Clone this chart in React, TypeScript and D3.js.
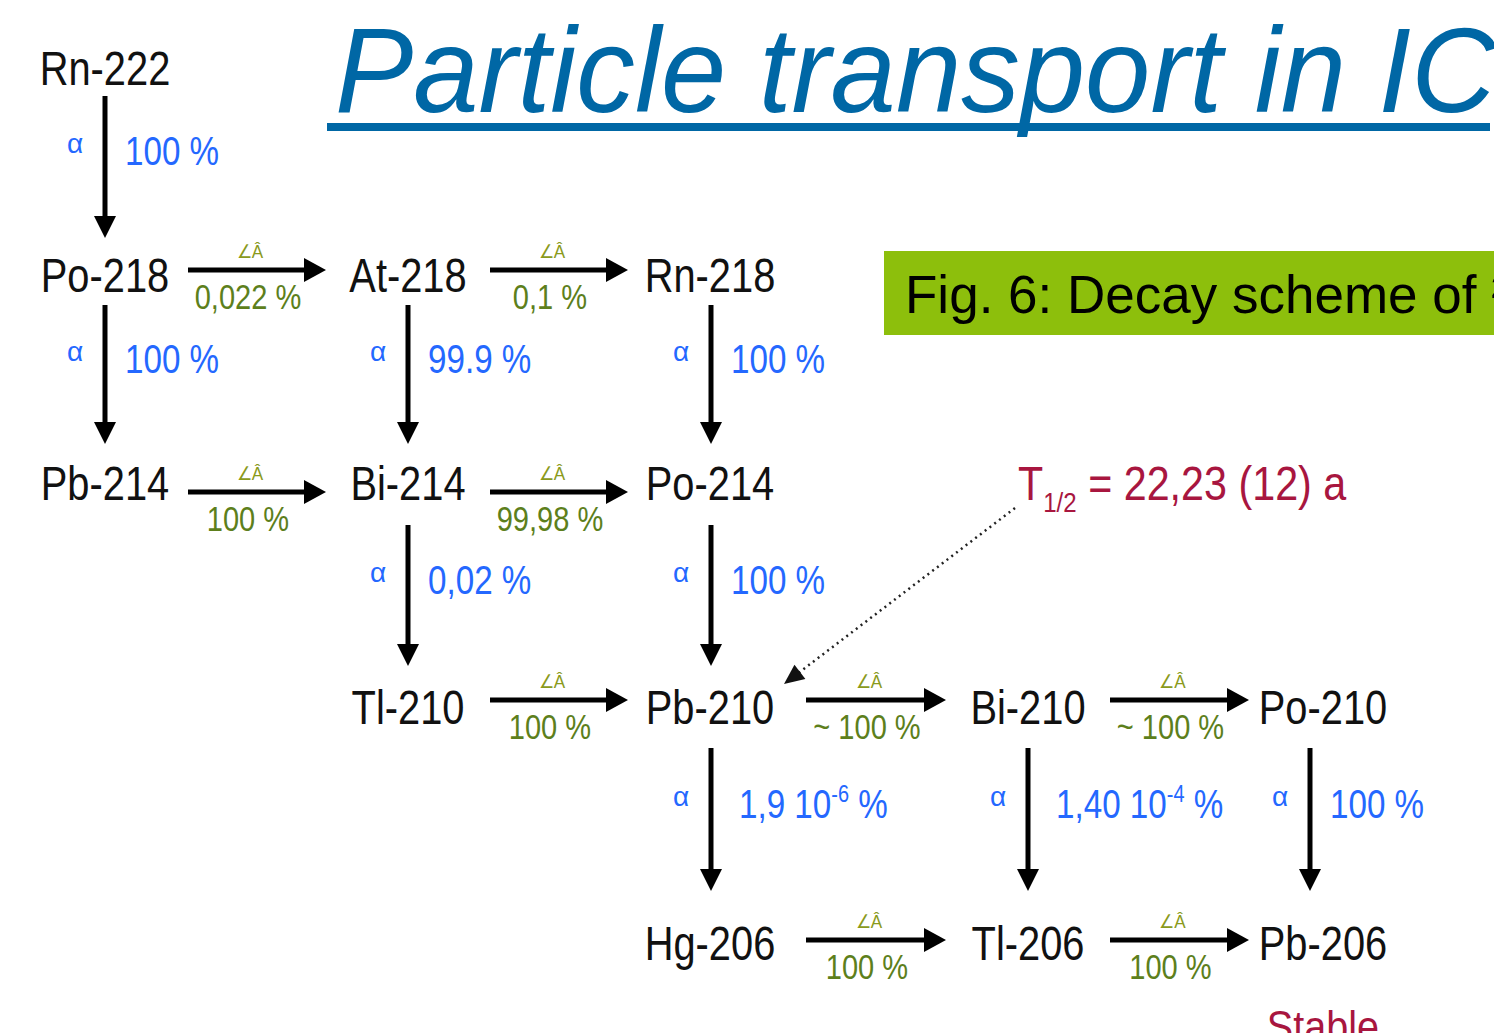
import React from 'react';
import * as d3 from 'd3';

// nuclides laid out on a grid of columns / rows
const nuclides = [
  { name: 'Rn-222', col: 0, row: 0 },
  { name: 'Po-218', col: 0, row: 1 },
  { name: 'At-218', col: 1, row: 1 },
  { name: 'Rn-218', col: 2, row: 1 },
  { name: 'Pb-214', col: 0, row: 2 },
  { name: 'Bi-214', col: 1, row: 2 },
  { name: 'Po-214', col: 2, row: 2 },
  { name: 'Tl-210', col: 1, row: 3 },
  { name: 'Pb-210', col: 2, row: 3 },
  { name: 'Bi-210', col: 3, row: 3 },
  { name: 'Po-210', col: 4, row: 3 },
  { name: 'Hg-206', col: 2, row: 4 },
  { name: 'Tl-206', col: 3, row: 4 },
  { name: 'Pb-206', col: 4, row: 4 },
];

// alpha decays go down one row, beta decays go right one column
const alphaDecays = [
  { from: 'Rn-222', value: '100 %', exp: '' },
  { from: 'Po-218', value: '100 %', exp: '' },
  { from: 'At-218', value: '99.9 %', exp: '' },
  { from: 'Rn-218', value: '100 %', exp: '' },
  { from: 'Bi-214', value: '0,02 %', exp: '' },
  { from: 'Po-214', value: '100 %', exp: '' },
  { from: 'Pb-210', value: '1,9 10', exp: '-6' },
  { from: 'Bi-210', value: '1,40 10', exp: '-4' },
  { from: 'Po-210', value: '100 %', exp: '' },
];

const betaDecays = [
  { from: 'Po-218', value: '0,022 %' },
  { from: 'At-218', value: '0,1 %' },
  { from: 'Pb-214', value: '100 %' },
  { from: 'Bi-214', value: '99,98 %' },
  { from: 'Tl-210', value: '100 %' },
  { from: 'Pb-210', value: '~ 100 %' },
  { from: 'Bi-210', value: '~ 100 %' },
  { from: 'Hg-206', value: '100 %' },
  { from: 'Tl-206', value: '100 %' },
];

const titleText = 'Particle transport in IC';
const figText = 'Fig. 6: Decay scheme of \u00B2\u00B2\u00B2Rn';
const halfLife = { label: '1/2', value: ' = 22,23 (12) a', target: 'Pb-210' };
const stableText = 'Stable';
const alphaGlyph = '\u03B1';
const betaGlyph = '\u2220\u00C2';

const W = 1494;
const H = 1033;

const BLUE = '#2468ff';
const GREEN = '#5d7f1c';
const RED = '#a8163f';
const FONT = '"Liberation Sans", Arial, sans-serif';

// scales for the grid
const colX = d3.scaleOrdinal<number, number>().domain([0, 1, 2, 3, 4]).range([105, 408, 710, 1028, 1323]);
const colArrowX = d3.scaleOrdinal<number, number>().domain([0, 1, 2, 3, 4]).range([105, 408, 711, 1028, 1310]);
const rowBase = d3.scaleOrdinal<number, number>().domain([0, 1, 2, 3, 4]).range([85, 292, 500, 724, 960]);
const rowArrowY = d3.scaleOrdinal<number, number>().domain([1, 2, 3, 4]).range([270, 492, 700, 940]);
const vStart = d3.scaleOrdinal<number, number>().domain([0, 1, 2, 3]).range([96, 305, 525, 748]);
const vEnd = d3.scaleOrdinal<number, number>().domain([0, 1, 2, 3]).range([238, 444, 666, 891]);
const hStart = d3.scaleOrdinal<number, number>().domain([0, 1, 2, 3]).range([188, 490, 806, 1110]);
const hEnd = d3.scaleOrdinal<number, number>().domain([0, 1, 2, 3]).range([326, 628, 946, 1249]);

const byName = new Map(nuclides.map(n => [n.name, n]));

const SX = 0.83;

const Txt = ({ x, y, size, fill = '#111', anchor = 'start', sx = SX, style = 'normal', children }: any) => (
  <text
    transform={`translate(${x},${y}) scale(${sx},1)`}
    fontSize={size}
    fill={fill}
    textAnchor={anchor}
    fontFamily={FONT}
    fontStyle={style}
  >
    {children}
  </text>
);

const arrow = (x1: number, y1: number, x2: number, y2: number, head = 22, half = 10) => {
  const a = Math.atan2(y2 - y1, x2 - x1);
  const bx = x2 - head * Math.cos(a);
  const by = y2 - head * Math.sin(a);
  const px = -Math.sin(a) * half;
  const py = Math.cos(a) * half;
  const p = d3.path();
  p.moveTo(x2, y2);
  p.lineTo(bx + px, by + py);
  p.lineTo(bx - px, by - py);
  p.closePath();
  return { shaftEnd: [bx + 2 * Math.cos(a), by + 2 * Math.sin(a)], head: p.toString() };
};

export default function App() {
  const target = byName.get(halfLife.target)!;
  const dot = arrow(1015, 508, 784, 684, 20, 9);

  return (
    <svg
      width={W}
      height={H}
      style={{ position: 'absolute', left: 0, top: 0, background: '#fff' }}
    >
      <rect width={W} height={H} fill="#fff" />

      {/* title */}
      <Txt x={335} y={112} size={121} fill="#0067a5" sx={0.97} style="italic">{titleText}</Txt>
      <rect x={327} y={123} width={1163} height={8} fill="#0067a5" />

      {/* figure caption box */}
      <rect x={884} y={251} width={W - 884} height={84} fill="#8dbf0c" />
      <Txt x={905} y={313} size={53} fill="#000" sx={1}>{figText}</Txt>

      {/* nuclides */}
      {nuclides.map(n => (
        <Txt key={n.name} x={colX(n.col)} y={rowBase(n.row)} size={48} anchor="middle">{n.name}</Txt>
      ))}

      {/* alpha decays */}
      {alphaDecays.map(d => {
        const n = byName.get(d.from)!;
        const x = colArrowX(n.col);
        const y1 = vStart(n.row);
        const y2 = vEnd(n.row);
        const ar = arrow(x, y1, x, y2, 22, 11);
        const mid = (y1 + y2) / 2;
        return (
          <g key={'a' + d.from}>
            <line x1={x} y1={y1} x2={x} y2={ar.shaftEnd[1]} stroke="#000" strokeWidth={5} />
            <path d={ar.head} fill="#000" />
            <Txt x={x - 30} y={mid - 14} size={28} fill={BLUE} anchor="middle" sx={1}>{alphaGlyph}</Txt>
            {d.exp ? (
              <Txt x={x + 28} y={mid - 2} size={40} fill={BLUE}>
                {d.value}
                <tspan fontSize={24} dy={-16}>{d.exp}</tspan>
                <tspan dy={16}> %</tspan>
              </Txt>
            ) : (
              <Txt x={x + 20} y={mid - 2} size={40} fill={BLUE}>{d.value}</Txt>
            )}
          </g>
        );
      })}

      {/* beta decays */}
      {betaDecays.map(d => {
        const n = byName.get(d.from)!;
        const y = rowArrowY(n.row);
        const x1 = hStart(n.col);
        const x2 = hEnd(n.col);
        const ar = arrow(x1, y, x2, y, 22, 12);
        const cx = (x1 + x2) / 2;
        return (
          <g key={'b' + d.from}>
            <line x1={x1} y1={y} x2={ar.shaftEnd[0]} y2={y} stroke="#000" strokeWidth={5} />
            <path d={ar.head} fill="#000" />
            <Txt x={cx - 7} y={y - 12} size={19} fill="#8a9a1c" anchor="middle" sx={0.9}>{betaGlyph}</Txt>
            <Txt x={cx - 9} y={y + 39} size={35} fill={GREEN} anchor="middle">{d.value}</Txt>
          </g>
        );
      })}

      {/* half-life annotation */}
      <line x1={1015} y1={508} x2={dot.shaftEnd[0]} y2={dot.shaftEnd[1]} stroke="#222" strokeWidth={2.5} strokeDasharray="2 4" />
      <path d={dot.head} fill="#111" />
      <Txt x={1018} y={500} size={48} fill={RED} sx={0.86}>
        T<tspan fontSize={28} dy={12}>{halfLife.label}</tspan>
        <tspan dy={-12}>{halfLife.value}</tspan>
      </Txt>
      <Txt x={colX(target.col + 2)} y={1042} size={44} fill={RED} anchor="middle" sx={0.9}>{stableText}</Txt>
    </svg>
  );
}
